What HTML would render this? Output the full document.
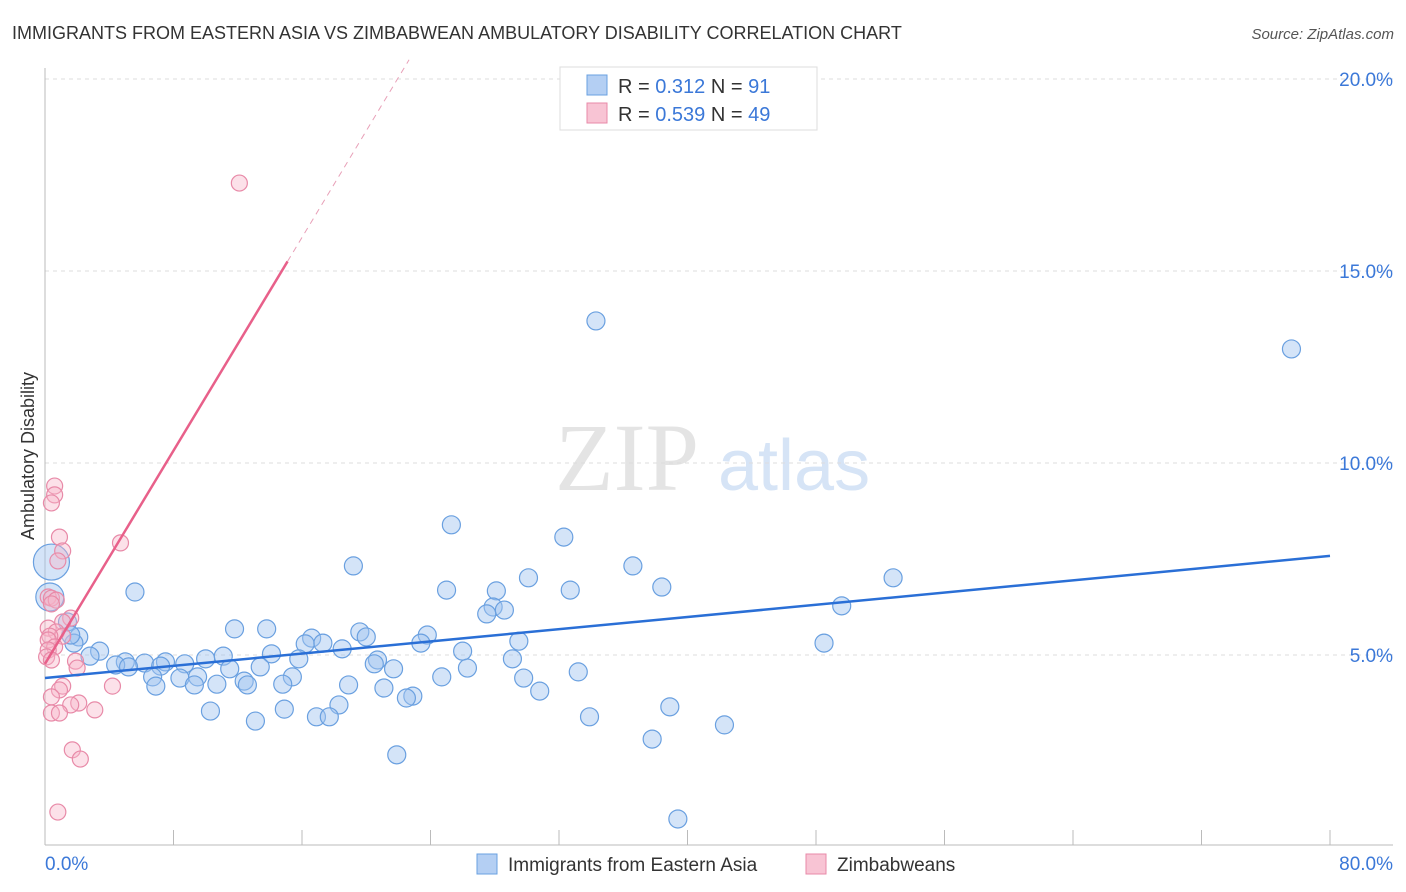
<!DOCTYPE html>
<html><head><meta charset="utf-8"><style>
body{margin:0;background:#fff;font-family:"Liberation Sans",sans-serif;}
</style></head><body>
<svg id="chart" width="1406" height="892" xmlns="http://www.w3.org/2000/svg" style="display:block">
<text x="12" y="39" font-size="18" fill="#333">IMMIGRANTS FROM EASTERN ASIA VS ZIMBABWEAN AMBULATORY DISABILITY CORRELATION CHART</text>
<text x="1394" y="39" font-size="15" fill="#555" text-anchor="end" font-style="italic">Source: ZipAtlas.com</text>
<g>
<text x="555" y="490" font-size="96" font-family="Liberation Serif,serif" fill="#e4e4e4">ZIP</text>
<text x="718" y="490" font-size="72" fill="#d6e4f6">atlas</text>
</g>
<g id="grid"></g>
<g id="axes"></g>
<g id="pts"></g>
<g id="trends"></g>
<text transform="translate(34,456) rotate(-90)" font-size="18" fill="#333" text-anchor="middle">Ambulatory Disability</text>
<g>
<rect x="560" y="67" width="257" height="63" fill="#fff" stroke="#ddd"/>
<rect x="587" y="75" width="20" height="20" fill="#b4cff3" stroke="#6aa0e0"/>
<rect x="587" y="103" width="20" height="20" fill="#f8c4d4" stroke="#e88aa8"/>
<text x="618" y="93" font-size="20" fill="#333">R = <tspan fill="#3b78d8">0.312</tspan>   N = <tspan fill="#3b78d8">91</tspan></text>
<text x="618" y="121" font-size="20" fill="#333">R = <tspan fill="#3b78d8">0.539</tspan>   N = <tspan fill="#3b78d8">49</tspan></text>
</g>
<g>
<rect x="477" y="854" width="20" height="20" fill="#b4cff3" stroke="#6aa0e0"/>
<text x="508" y="871" font-size="19" fill="#333">Immigrants from Eastern Asia</text>
<rect x="806" y="854" width="20" height="20" fill="#f8c4d4" stroke="#e88aa8"/>
<text x="837" y="871" font-size="19" fill="#333">Zimbabweans</text>
</g>
</svg>
<script>
const yTicks=[5,10,15,20];
const yTickLabels=["5.0%","10.0%","15.0%","20.0%"];
const xTicks=[0,8,16,24,32,40,48,56,64,72,80];
const blueX=[34.3,77.6,25.3,32.3,19.2,36.6,30.1,52.8,25.0,38.4,32.7,28.1,5.6,49.6,27.9,28.6,27.5,11.8,13.8,19.6,23.8,20.0,16.6,16.2,29.5,17.3,48.5,23.4,2.1,1.8,18.5,26.0,3.4,14.1,2.8,11.1,10.0,15.8,29.1,20.7,7.5,6.2,8.7,5.0,4.4,7.2,20.5,26.3,13.4,11.5,5.2,21.7,33.2,6.7,8.4,9.5,15.4,12.4,29.8,24.7,14.8,10.7,6.9,9.3,12.6,18.9,21.1,30.8,22.9,22.5,18.3,14.9,10.3,38.9,33.9,16.9,17.7,13.1,42.3,37.8,21.9,39.4,0.4,0.3,1.4,1.6];
const blueY=[13.70,12.97,8.39,8.07,7.32,7.32,7.01,7.01,6.69,6.77,6.69,6.67,6.64,6.28,6.25,6.17,6.07,5.68,5.68,5.60,5.52,5.47,5.44,5.29,5.36,5.31,5.31,5.31,5.47,5.31,5.16,5.10,5.10,5.03,4.97,4.97,4.90,4.90,4.90,4.87,4.82,4.79,4.77,4.82,4.74,4.71,4.77,4.66,4.69,4.64,4.69,4.64,4.56,4.43,4.40,4.43,4.43,4.32,4.40,4.43,4.24,4.24,4.19,4.22,4.22,4.22,4.14,4.06,3.93,3.88,3.70,3.59,3.54,3.65,3.39,3.39,3.39,3.28,3.18,2.81,2.40,0.73,7.42,6.51,5.86,5.52];
const blueSize=blueX.map((v,i)=>i==82?18:(i==83?14:9));
const pinkX=[12.1,0.6,0.6,0.4,0.9,4.7,1.1,0.8,0.2,0.4,0.7,0.4,1.6,1.1,0.2,0.7,1.1,0.3,0.2,0.6,0.2,0.1,0.4,1.9,2.0,4.2,1.1,0.9,0.4,2.1,1.6,3.1,0.4,0.9,1.7,2.2,0.8];
const pinkY=[17.29,9.40,9.17,8.96,8.07,7.92,7.71,7.45,6.51,6.48,6.43,6.33,5.96,5.86,5.70,5.60,5.49,5.49,5.39,5.21,5.13,4.95,4.87,4.84,4.66,4.19,4.19,4.09,3.91,3.75,3.70,3.57,3.49,3.49,2.53,2.29,0.91];
const blueTrend=[4.40,7.58];
const pinkTrend=[4.77,0.694];
const sx=v=>45+v*(1285/80), sy=v=>847-v*38.4;
const NS="http://www.w3.org/2000/svg";
function mk(tag,attrs,parent){const e=document.createElementNS(NS,tag);for(const k in attrs)e.setAttribute(k,attrs[k]);document.getElementById(parent).appendChild(e);return e;}
yTicks.forEach((t,i)=>{
 const g=mk('line',{x1:45,x2:1393,y1:sy(t),y2:sy(t),stroke:'#ddd','stroke-dasharray':'4,4'},'grid');
 
 
 const l=mk('text',{x:1393,y:sy(t)+7,'font-size':19,fill:'#3b78d8','text-anchor':'end'},'axes');
 l.textContent=yTickLabels[i];
 
 
});
const ax=mk('line',{x1:45,x2:45,y1:68,y2:845,stroke:'#bbb'},'axes');


const bx=mk('line',{x1:45,x2:1393,y1:845,y2:845,stroke:'#bbb'},'axes');


xTicks.forEach(t=>{const e=mk('line',{x1:sx(t),x2:sx(t),y1:830,y2:845,stroke:'#bbb'},'axes');
 
 });
const x0=mk('text',{x:45,y:870,'font-size':19,fill:'#3b78d8'},'axes');x0.textContent='0.0%';


const x1=mk('text',{x:1393,y:870,'font-size':19,fill:'#3b78d8','text-anchor':'end'},'axes');x1.textContent='80.0%';


blueX.forEach((v,i)=>{const c=mk('circle',{cx:sx(v),cy:sy(blueY[i]),r:blueSize[i],fill:'rgba(160,196,240,0.45)',stroke:'#6aa0e0','stroke-width':1.2},'pts');
 
 });
pinkX.forEach((v,i)=>{const c=mk('circle',{cx:sx(v),cy:sy(pinkY[i]),r:8,fill:'rgba(248,180,200,0.4)',stroke:'#e88aa8','stroke-width':1.2},'pts');
 
 });
const bt=mk('line',{x1:sx(0),y1:sy(blueTrend[0]),x2:sx(80),y2:sy(blueTrend[1]),stroke:'#2a6fd6','stroke-width':2.5},'trends');


const pe=15.1, pd=(20.5-pinkTrend[0])/pinkTrend[1];
const pt=mk('line',{x1:sx(0),y1:sy(pinkTrend[0]),x2:sx(pe),y2:sy(pinkTrend[0]+pinkTrend[1]*pe),stroke:'#e8608a','stroke-width':2.5},'trends');


const pdl=mk('line',{x1:sx(pe),y1:sy(pinkTrend[0]+pinkTrend[1]*pe),x2:sx(pd),y2:sy(20.5),stroke:'#e8a0b8','stroke-width':1,'stroke-dasharray':'6,5'},'trends');


</script>
</body></html>
